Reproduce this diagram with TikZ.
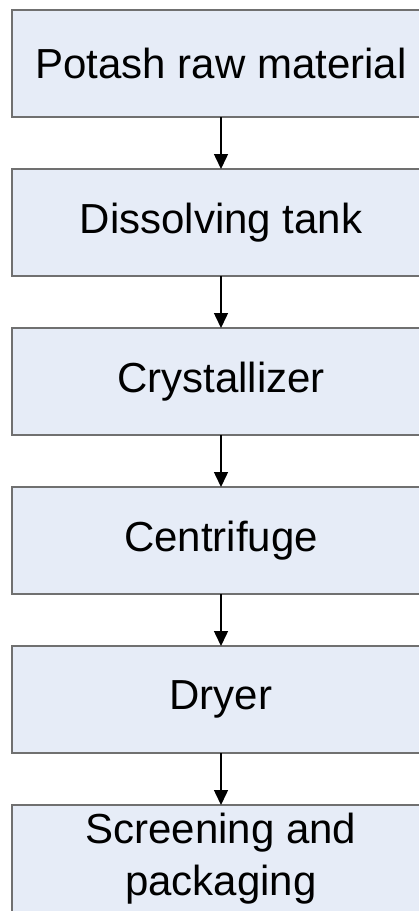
\documentclass[tikz,border=0pt]{standalone}
\usepackage{fontspec}
\setmainfont{Liberation Sans}
\usetikzlibrary{positioning,arrows.meta}
\definecolor{hellblau}{RGB}{230,236,247}
\definecolor{rand}{RGB}{112,112,112}

\begin{document}
\begin{tikzpicture}
[kasten/.style={rectangle, draw=rand, fill=hellblau, line width=1.6pt,
  minimum width=418pt, minimum height=107pt, inner sep=0pt, outer sep=0pt,
  align=center, font=\fontsize{42}{52}\selectfont},
pfeil/.style={line width=1.5pt, -{Triangle[width=14pt,length=15pt]}},
]
\useasboundingbox (0,0) rectangle (419pt,-911pt);

\node[kasten] (A) at (221pt,-63.5pt) {Potash raw material};
\node[kasten] (B) [below=52pt of A] {Dissolving tank};
\node[kasten] (C) [below=52pt of B] {Crystallizer};
\node[kasten] (D) [below=52pt of C] {Centrifuge};
\node[kasten] (E) [below=52pt of D] {Dryer};
\node[kasten] (F) [below=52pt of E] {Screening and\\packaging};

\draw[pfeil] (A) -- (B);
\draw[pfeil] (B) -- (C);
\draw[pfeil] (C) -- (D);
\draw[pfeil] (D) -- (E);
\draw[pfeil] (E) -- (F);
\end{tikzpicture}
\end{document}
